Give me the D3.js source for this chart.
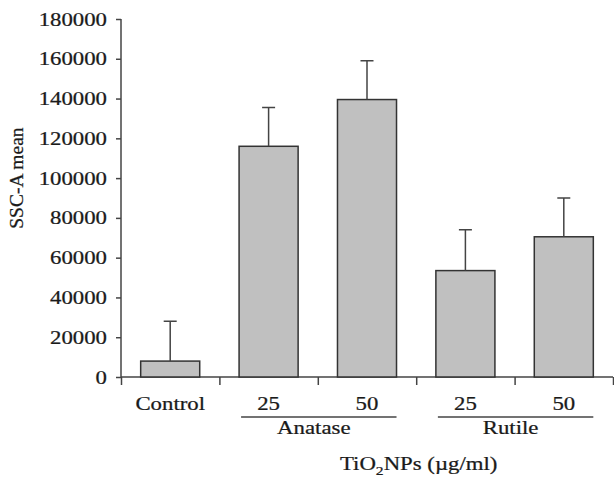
<!DOCTYPE html>
<meta charset="utf-8">
<style>
  body { margin: 0; background: #fff; }
  text { font-family: "Liberation Serif", "Times New Roman", serif; fill: #1a1a1a; stroke: #1a1a1a; stroke-width: 0.25px; }
</style>
<script src="https://cdn.jsdelivr.net/npm/d3@7"></script>
<div id="chart"></div>
<script>

// data
var categories = ["Control", "Anatase 25", "Anatase 50", "Rutile 25", "Rutile 50"];
var tickLabels = ["Control", "25", "50", "25", "50"];
var means = [8000, 116000, 139500, 53500, 70500];
var errors = [20000, 19500, 19500, 20500, 19500];
var groupNames = ["Anatase", "Rutile"];
var groupFirst = ["Anatase 25", "Rutile 25"];
var groupLast = ["Anatase 50", "Rutile 50"];
var yTicks = [0, 20000, 40000, 60000, 80000, 100000, 120000, 140000, 160000, 180000];

var margin = {top: 19, right: 1, bottom: 103, left: 121},
    width = 614 - margin.left - margin.right,
    height = 480 - margin.top - margin.bottom;

// the original image is stretched horizontally, so text is too
var sx = 1.2;
var fs = 19;

var svg = d3.select("#chart")
  .append("svg")
    .attr("width", 614)
    .attr("height", 480)
  .append("g")
    .attr("transform", "translate(" + margin.left + "," + margin.top + ")");

var x = d3.scaleBand()
  .domain(categories)
  .range([0, width])
  .paddingInner(0.4)
  .paddingOuter(0.2);

var y = d3.scaleLinear()
  .domain([0, 180000])
  .range([height, 0]);

// stretched text helper
function label(px, py, str, size, anchor) {
  return svg.append("g")
      .attr("transform", "translate(" + px + "," + py + ") scale(" + sx + ",1)")
    .append("text")
      .attr("text-anchor", anchor || "middle")
      .style("font-size", size + "px")
      .text(str);
}

// Y axis
var yAxis = svg.append("g")
  .call(d3.axisLeft(y).tickValues(yTicks).tickSize(5).tickPadding(9).tickFormat(d3.format("d")));
yAxis.selectAll("text")
  .style("font-size", fs + "px")
  .attr("x", -14 / sx)
  .attr("transform", "scale(" + sx + ",1)");

// X axis: ticks on band boundaries
var xb = d3.scaleLinear().domain([0, categories.length]).range([0, width]);
var xAxis = svg.append("g")
  .attr("transform", "translate(0," + height + ")")
  .call(d3.axisBottom(xb).tickValues(d3.range(categories.length + 1)).tickSize(8).tickFormat(""));

svg.selectAll(".domain, .tick line")
  .attr("stroke", "#444")
  .attr("stroke-width", 1.5);
yAxis.select(".domain").attr("d", "M0," + height + "V0");
xAxis.select(".domain").attr("d", "M0,0H" + width);

// bars
svg.selectAll(".bar")
  .data(categories)
  .enter()
  .append("rect")
    .attr("class", "bar")
    .attr("x", function(d) { return x(d); })
    .attr("y", function(d, i) { return y(means[i]); })
    .attr("width", x.bandwidth())
    .attr("height", function(d, i) { return height - y(means[i]); })
    .attr("fill", "#c0c0c0")
    .attr("stroke", "#333")
    .attr("stroke-width", 1.5);

// error bars (upper only)
svg.selectAll(".err")
  .data(categories)
  .enter()
  .append("path")
    .attr("class", "err")
    .attr("fill", "none")
    .attr("stroke", "#444")
    .attr("stroke-width", 1.5)
    .attr("d", function(d, i) {
      var cx = x(d) + x.bandwidth() / 2;
      var top = y(means[i] + errors[i]);
      return "M" + cx + "," + y(means[i]) + "V" + top + "M" + (cx - 6.5) + "," + top + "H" + (cx + 6.5);
    });

// category labels
categories.forEach(function(c, i) {
  label(x(c) + x.bandwidth() / 2, height + 33, tickLabels[i], fs);
});

// group lines and names
groupNames.forEach(function(g, i) {
  var x0 = x(groupFirst[i]) + 2,
      x1 = x(groupLast[i]) + x.bandwidth();
  svg.append("line")
    .attr("x1", x0).attr("x2", x1)
    .attr("y1", height + 40).attr("y2", height + 40)
    .attr("stroke", "#444")
    .attr("stroke-width", 1.5);
  label((x0 + x1) / 2 - 5, height + 57, g, fs);
});

// x axis title
var t = label(width * 0.605, height + 93, "", fs);
t.append("tspan").text("TiO");
t.append("tspan").attr("dy", 5).style("font-size", "13px").text("2");
t.append("tspan").attr("dy", -5).text("NPs (\u00b5g/ml)");

// y axis title
svg.append("text")
  .attr("transform", "rotate(-90)")
  .attr("x", -y(100000))
  .attr("y", -margin.left + 23)
  .attr("text-anchor", "middle")
  .style("font-size", "19.5px")
  .text("SSC-A mean");

</script>
